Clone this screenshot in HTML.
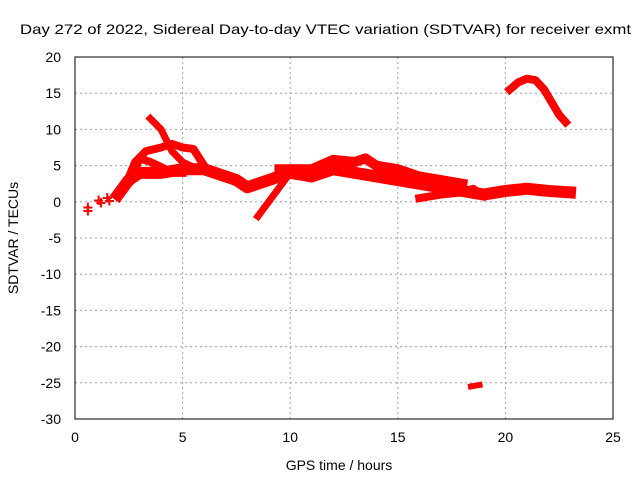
<!DOCTYPE html>
<html><head><meta charset="utf-8"><style>
body{margin:0;background:#fff}
svg{font-family:"Liberation Sans",sans-serif;font-size:14px}
</style></head><body>
<svg id="c" width="640" height="480">
<text x="20" y="34" textLength="611" lengthAdjust="spacingAndGlyphs">Day 272 of 2022, Sidereal Day-to-day VTEC variation (SDTVAR) for receiver exmt</text>
<text x="339" y="470" text-anchor="middle">GPS time / hours</text>
<text transform="translate(18,238) rotate(-90)" text-anchor="middle">SDTVAR / TECUs</text>
<g id="grid"></g><g id="ticks"></g><g id="marks"></g>
<rect x="75" y="57" width="538" height="362" fill="none" stroke="#000" stroke-width="1"/>
</svg>
<script>
const xTicks=[0,5,10,15,20,25];
const yTicks=[20,15,10,5,0,-5,-10,-15,-20,-25,-30];
const trackMain=[[2,1],[2.5,3],[3,4],[4,4],[5,4.5],[6,4.5],[7,3.5],[7.5,3],[8,2],[8.5,2.5],[9,3],[10,4],[11,3.5],[12,4.5],[13,4],[14,3.5],[15,3],[16,2.5],[17,2],[18,1.5],[19,1],[20,1.5],[21,1.8],[22,1.5],[23,1.3]];
const trackUpper=[[9.5,4.5],[11,4.5],[12,5.8],[13,5.5],[13.5,6],[14,5],[15,4.5],[16,3.5],[17,3],[18,2.5]];
const trackFall=[[3.5,11.5],[4,10],[4.5,7],[5,5.5],[5.5,4.8]];
const trackRise=[[8.5,-2],[9,0],[9.5,2],[10,4]];
const trackArcLow=[[2.3,2],[2.8,5.5],[3.3,7],[4,7.5],[4.5,8],[5,7.5],[5.5,7.3],[6,5]];
const trackCross=[[2.6,3],[3,6],[3.5,5.5],[4,4.8],[4.5,4],[5,4]];
const trackLate=[[16,0.5],[17,1],[18,1.3],[18.5,1.8],[19,0.8]];
const trackHigh=[[20.2,15.5],[20.6,16.5],[21,17],[21.4,16.8],[21.8,15.5],[22.2,13.5],[22.5,12],[22.8,11]];
const trackOutlier=[[18.4,-25.5],[18.8,-25.3]];
const sparse=[[0.6,-1.3],[0.6,-0.8],[1.1,0.2],[1.2,-0.2],[1.5,0.5],[1.6,0.1],[2,0.8]];
const NS='http://www.w3.org/2000/svg';
const X=v=>75+v*538/25, Y=v=>57+(20-v)*362/50;
function mk(t,a,p){const e=document.createElementNS(NS,t);for(const k in a)e.setAttribute(k,a[k]);p.appendChild(e);return e;}
const g=document.getElementById('grid'),tk=document.getElementById('ticks'),m=document.getElementById('marks');
xTicks.forEach(v=>{
 if(v>0&&v<25){const l=mk('line',{x1:X(v),x2:X(v),y1:57,y2:419,stroke:'#a0a0a0','stroke-dasharray':'2,3'},g);
 
 }
 const t=mk('text',{x:X(v),y:442,'text-anchor':'middle'},tk);t.textContent=v;
 
 
});
yTicks.forEach(v=>{
 if(v<20&&v>-30){const l=mk('line',{x1:75,x2:613,y1:Y(v),y2:Y(v),stroke:'#a0a0a0','stroke-dasharray':'2,3'},g);
 
 }
 const t=mk('text',{x:61,y:Y(v)+5,'text-anchor':'end'},tk);t.textContent=v;
 
 
});
function track(d,w,name){
 const p=mk('polyline',{points:d.map(q=>X(q[0])+','+Y(q[1])).join(' '),fill:'none',stroke:'#f00','stroke-width':w,'stroke-linejoin':'round','stroke-linecap':'square'},m);
 
 
}
track(trackMain,12,'track-main');
track(trackUpper,10,'track-upper');
track(trackFall,7,'track-fall');
track(trackRise,7,'track-rise');
track(trackArcLow,8,'track-arc');
track(trackCross,8,'track-cross');
track(trackLate,8,'track-late');
track(trackHigh,8,'track-high');
track(trackOutlier,6,'track-outlier');
sparse.forEach(q=>{
 const t=mk('text',{x:X(q[0]),y:Y(q[1])+6,'text-anchor':'middle',fill:'#f00','font-size':'18','font-weight':'bold'},m);t.textContent='+';
 
 
});
</script>
</body></html>
